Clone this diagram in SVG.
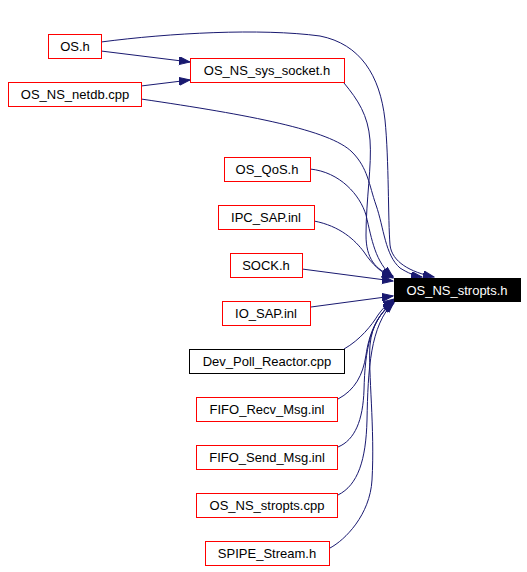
<svg xmlns="http://www.w3.org/2000/svg" width="527" height="572" viewBox="0 0 527 572">
<style>
.n rect{fill:#fff;stroke:#ff0000;stroke-width:1}
.n text{font-family:"Liberation Sans",Arial,sans-serif;font-size:13px;text-anchor:middle;fill:#000}
.n.b rect{stroke:#000}
.n.t rect{fill:#000;stroke:#000}
.n.t text{fill:#fff}
.e path{fill:none;stroke:#191970;stroke-width:1;marker-end:url(#a)}
</style>
<defs>
<marker id="a" markerUnits="userSpaceOnUse" markerWidth="12" markerHeight="9" refX="11" refY="4" orient="auto">
<path d="M0,0 L11,4 L0,8 z" fill="#191970" stroke="#191970" stroke-width="1"/>
</marker>
</defs>
<rect width="527" height="572" fill="#fff"/>
<g class="e" id="edges">
<path d="M101,42 C170,33 260,28 320,36 C360,44 380,75 385,120 C389,160 388,220 390,245 C392,262 410,272 434,277"/>
<path d="M101,51 L190,62"/>
<path d="M141,86 L190,80"/>
<path d="M141,99 C250,115 330,130 352,152 C368,168 369,185 376,205 C384,228 385,255 400,268 C408,273 415,276 422,277"/>
<path d="M344,83 C358,100 368,115 370,140 C372,165 366,200 366,235 C366,258 375,270 393,276"/>
<path d="M310,169 C340,172 360,195 366,215 C372,240 375,262 393,277"/>
<path d="M314,221 C340,226 355,240 364,252 C372,264 380,272 393,278"/>
<path d="M302,269 L393,281"/>
<path d="M311,307 L393,296"/>
<path d="M344,349 C360,340 372,325 378,315 C383,308 388,303 394,299"/>
<path d="M338,399 C355,390 363,375 366,355 C369,335 375,318 394,300"/>
<path d="M338,447 C355,440 363,420 364,390 C365,350 370,320 394,301"/>
<path d="M338,495 C358,485 366,460 367,420 C368,370 370,325 394,302"/>
<path d="M330,548 C345,540 370,515 372,480 C375,430 368,370 370,345 C372,325 380,312 394,303"/>
</g>
<g class="n" id="os_h"><rect x="48.5" y="34.5" width="53" height="24"/><text x="75" y="51">OS.h</text></g>
<g class="n" id="os_ns_sys_socket_h"><rect x="190.5" y="58.5" width="154" height="24"/><text x="267" y="75">OS_NS_sys_socket.h</text></g>
<g class="n" id="os_ns_netdb_cpp"><rect x="8.5" y="82.5" width="133" height="24"/><text x="75" y="99">OS_NS_netdb.cpp</text></g>
<g class="n t" id="os_ns_stropts_h"><rect x="394.5" y="278.5" width="126" height="23"/><text x="457" y="295">OS_NS_stropts.h</text></g>
<g class="n" id="os_qos_h"><rect x="224.5" y="157.5" width="86" height="24"/><text x="267" y="174">OS_QoS.h</text></g>
<g class="n" id="ipc_sap_inl"><rect x="218.5" y="205.5" width="96" height="24"/><text x="266" y="222">IPC_SAP.inl</text></g>
<g class="n" id="sock_h"><rect x="230.5" y="253.5" width="72" height="24"/><text x="266" y="270">SOCK.h</text></g>
<g class="n" id="io_sap_inl"><rect x="222.5" y="301.5" width="88" height="24"/><text x="266" y="318">IO_SAP.inl</text></g>
<g class="n b" id="dev_poll_reactor_cpp"><rect x="189.5" y="349.5" width="155" height="24"/><text x="267" y="366">Dev_Poll_Reactor.cpp</text></g>
<g class="n" id="fifo_recv_msg_inl"><rect x="196.5" y="397.5" width="141" height="24"/><text x="267" y="414">FIFO_Recv_Msg.inl</text></g>
<g class="n" id="fifo_send_msg_inl"><rect x="196.5" y="445.5" width="141" height="24"/><text x="267" y="462">FIFO_Send_Msg.inl</text></g>
<g class="n" id="os_ns_stropts_cpp"><rect x="196.5" y="493.5" width="141" height="24"/><text x="267" y="510">OS_NS_stropts.cpp</text></g>
<g class="n" id="spipe_stream_h"><rect x="205.5" y="541.5" width="124" height="24"/><text x="267" y="558">SPIPE_Stream.h</text></g>
</svg>
